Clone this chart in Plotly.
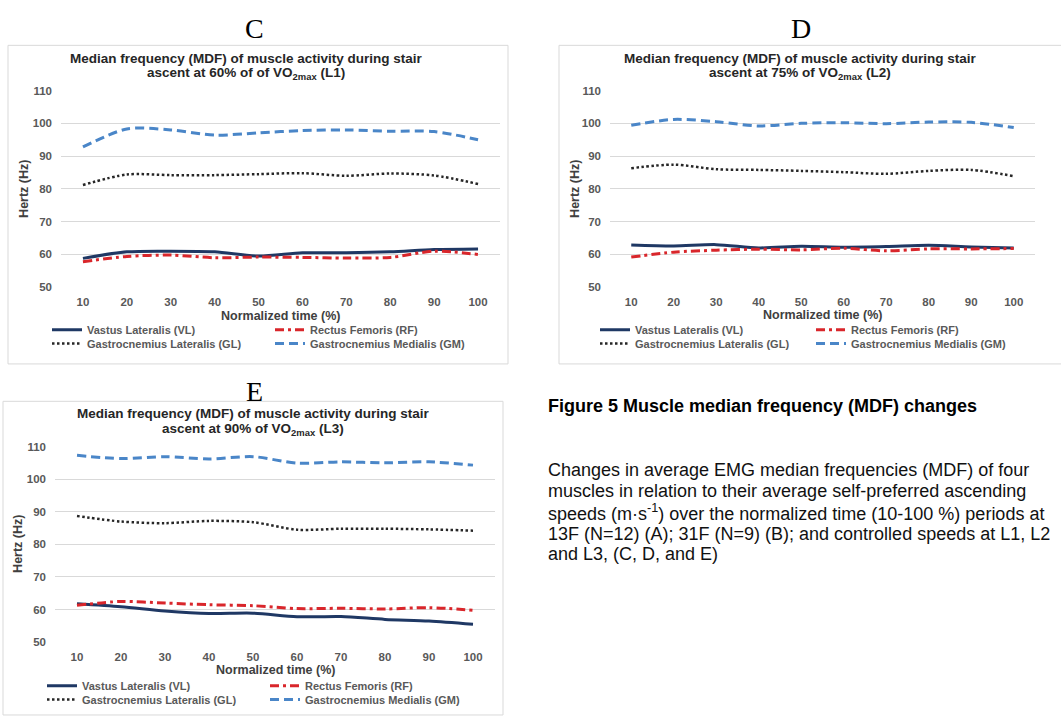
import plotly.graph_objects as go

# ---------------- data ----------------
time_pct = [10, 20, 30, 40, 50, 60, 70, 80, 90, 100]
y_ticks = [50, 60, 70, 80, 90, 100, 110]

series_names = ["Vastus Lateralis (VL)", "Rectus Femoris (RF)",
                "Gastrocnemius Lateralis (GL)", "Gastrocnemius Medialis (GM)"]

C_VL = [58.8, 60.8, 61.0, 60.8, 59.5, 60.5, 60.5, 60.8, 61.5, 61.7]
C_RF = [57.8, 59.4, 59.8, 59.0, 59.2, 59.1, 58.9, 59.1, 61.0, 60.0]
C_GL = [81.2, 84.4, 84.2, 84.2, 84.5, 84.8, 84.0, 84.7, 84.1, 81.5]
C_GM = [92.8, 98.3, 98.0, 96.4, 97.1, 97.8, 98.0, 97.6, 97.5, 95.0]

D_VL = [62.9, 62.6, 63.0, 62.0, 62.5, 62.2, 62.4, 62.8, 62.3, 62.0]
D_RF = [59.2, 60.7, 61.3, 61.6, 61.4, 61.9, 61.1, 61.7, 61.7, 61.8]
D_GL = [86.3, 87.4, 86.0, 85.8, 85.5, 85.1, 84.6, 85.5, 85.8, 83.9]
D_GM = [99.4, 101.2, 100.5, 99.2, 100.0, 100.2, 99.9, 100.4, 100.3, 98.7]

E_VL = [61.8, 60.9, 59.6, 58.8, 58.9, 57.8, 57.9, 57.0, 56.5, 55.5]
E_RF = [61.3, 62.5, 62.0, 61.5, 61.2, 60.3, 60.4, 60.2, 60.6, 59.8]
E_GL = [88.7, 87.0, 86.5, 87.2, 86.8, 84.5, 84.8, 84.8, 84.6, 84.2]
E_GM = [107.3, 106.3, 106.9, 106.2, 106.9, 104.9, 105.3, 105.0, 105.3, 104.3]

title_line1 = "Median frequency (MDF) of muscle activity during stair"
title_line2 = ["ascent at 60% of of VO<sub>2max</sub> (L1)",
               "ascent at 75% of VO<sub>2max</sub> (L2)",
               "ascent at 90% of VO<sub>2max</sub> (L3)"]
panel_letters = ["C", "D", "E"]
x_title = "Normalized time (%)"
y_title = "Hertz (Hz)"

caption_title = "Figure 5 Muscle median frequency (MDF) changes"
caption_lines = [
    "Changes in average EMG median frequencies (MDF) of four",
    "muscles in relation to their average self-preferred ascending",
    "speeds (m·s<sup>-1</sup>) over the normalized time (10-100 %) periods at",
    "13F (N=12) (A); 31F (N=9) (B); and controlled speeds at L1, L2",
    "and L3, (C, D, and E)",
]

# ---------------- layout helpers ----------------
W, H = 1061, 720
def fx(px):
    return px / W
def fy(py):
    return 1 - py / H

FONT = "Liberation Sans, Arial, sans-serif"
styles = [
    dict(color="#1F3864", width=3, dash="solid"),
    dict(color="#D9262B", width=3, dash="9px,4px,3px,4px"),
    dict(color="#262626", width=2.5, dash="2.5px,2.5px"),
    dict(color="#4A86C8", width=3, dash="9px,5px"),
]

panels = [
    dict(data=[C_VL, C_RF, C_GL, C_GM], xd=(61, 500), yd=(286, 86),
         box=(8, 40, 508, 364), tcx=246, ty=(53, 69), letter=(254, 23),
         leg_left=47, leg_rows=(329, 343), entry=178, xt=(280, 315), yt=(24, 186)),
    dict(data=[D_VL, D_RF, D_GL, D_GM], xd=(610, 1035), yd=(286, 86),
         box=(559, 40, 1062, 364), tcx=800, ty=(53, 69), letter=(801, 23),
         leg_left=595, leg_rows=(329, 343), entry=171, xt=(822, 314), yt=(575, 186)),
    dict(data=[E_VL, E_RF, E_GL, E_GM], xd=(55, 495), yd=(647, 448),
         box=(3, 402, 503, 721), tcx=253, ty=(414, 431), letter=(254, 392),
         leg_left=42, leg_rows=(691, 705), entry=178, xt=(275, 675), yt=(18, 547)),
]

fig = go.Figure()
layout = dict(width=W, height=H, margin=dict(l=0, r=0, t=0, b=0),
              paper_bgcolor="white", plot_bgcolor="rgba(0,0,0,0)",
              showlegend=True, font=dict(family=FONT))
shapes, annotations = [], []

TICK_FONT = dict(family=FONT, size=11.5, color="#595959", weight="bold")

for i, p in enumerate(panels):
    ax = "" if i == 0 else str(i + 1)
    xa, ya = "x" + ax, "y" + ax
    for j in range(4):
        ln = 2 * i + j // 2
        legname = "legend" if ln == 0 else "legend" + str(ln + 1)
        fig.add_trace(go.Scatter(
            x=time_pct, y=p["data"][j], mode="lines",
            name="<b>" + series_names[j] + "</b>",
            line=dict(shape="spline", smoothing=0.8, **styles[j]),
            xaxis=xa, yaxis=ya, legend=legname, showlegend=True))
    layout["xaxis" + ax] = dict(
        domain=[fx(p["xd"][0]), fx(p["xd"][1])], anchor=ya,
        range=[5, 105], tickvals=time_pct,
        ticktext=["<b>%d</b>" % v for v in time_pct],
        showgrid=False, zeroline=False,
        showline=False, ticks="", ticklabelstandoff=6, tickfont=TICK_FONT)
    layout["yaxis" + ax] = dict(
        domain=[fy(p["yd"][0]), fy(p["yd"][1])], anchor=xa,
        range=[50, 110], tickvals=y_ticks,
        ticktext=["<b>%d</b>" % v for v in y_ticks],
        showgrid=True, gridcolor="#D9D9D9",
        gridwidth=1, zeroline=False, showline=False, ticks="", ticklabelstandoff=8,
        tickfont=TICK_FONT)
    # legends: two rows, two entries each
    for r in range(2):
        ln = 2 * i + r
        key = "legend" if ln == 0 else "legend" + str(ln + 1)
        layout[key] = dict(
            orientation="h", x=fx(p["leg_left"]), xanchor="left",
            y=fy(p["leg_rows"][r] - 14.5), yanchor="top",
            entrywidth=p["entry"], entrywidthmode="pixels", itemwidth=30,
            bgcolor="rgba(0,0,0,0)", borderwidth=0,
            font=dict(family=FONT, size=11, color="#595959", weight="bold"))
    # chart border box
    bx = p["box"]
    shapes.append(dict(type="rect", xref="paper", yref="paper",
                       x0=fx(bx[0]), x1=fx(bx[2]), y0=fy(bx[3]), y1=fy(bx[1]),
                       line=dict(color="#D9D9D9", width=1), fillcolor="white",
                       layer="below"))
    # chart titles
    for k, txt in enumerate([title_line1, title_line2[i]]):
        annotations.append(dict(text="<b>" + txt + "</b>", x=fx(p["tcx"]), y=fy(p["ty"][k]),
                                xref="paper", yref="paper", xanchor="center", yanchor="middle",
                                showarrow=False,
                                font=dict(family=FONT, size=13.5, color="#262626")))
    # panel letter
    annotations.append(dict(text=panel_letters[i], x=fx(p["letter"][0]), y=fy(p["letter"][1]),
                            xref="paper", yref="paper", xanchor="center", yanchor="middle",
                            showarrow=False,
                            font=dict(family="Liberation Serif, Times New Roman, serif",
                                      size=28, color="black")))
    # axis titles
    annotations.append(dict(text="<b>" + x_title + "</b>", x=fx(p["xt"][0]), y=fy(p["xt"][1]),
                            xref="paper", yref="paper", xanchor="center", yanchor="middle",
                            showarrow=False,
                            font=dict(family=FONT, size=12.5, color="#404040")))
    annotations.append(dict(text="<b>" + y_title + "</b>", x=fx(p["yt"][0]), y=fy(p["yt"][1]),
                            xref="paper", yref="paper", xanchor="center", yanchor="middle",
                            showarrow=False, textangle=-90,
                            font=dict(family=FONT, size=12.5, color="#404040")))

# caption
annotations.append(dict(text="<b>" + caption_title + "</b>", x=fx(546), y=fy(407),
                        xref="paper", yref="paper",
                        xanchor="left", yanchor="middle", showarrow=False,
                        font=dict(family=FONT, size=18, color="black")))
cap_y = [471.7, 493.3, 515.0, 536.7, 557.7]
for txt, yy in zip(caption_lines, cap_y):
    annotations.append(dict(text=txt, x=fx(546), y=fy(yy), xref="paper", yref="paper",
                            xanchor="left", yanchor="middle", showarrow=False,
                            font=dict(family=FONT, size=18, color="#111111")))

layout["shapes"] = shapes
layout["annotations"] = annotations
fig.update_layout(**layout)
fig.write_html("out.html")
